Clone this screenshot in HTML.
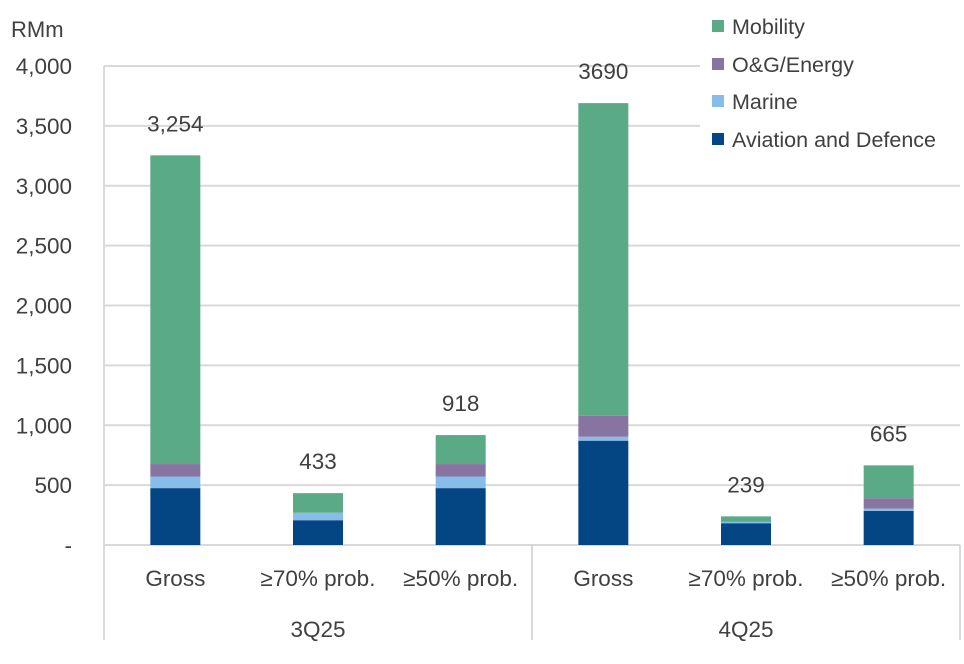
<!DOCTYPE html>
<html><head><meta charset="utf-8"><style>
html,body{margin:0;padding:0;background:#fff;}
svg text{font-family:"Liberation Sans",sans-serif;fill:#404040;}
</style></head><body>
<svg id="chart" width="964" height="659" viewBox="0 0 964 659" xmlns="http://www.w3.org/2000/svg">
<g id="grid"></g><g id="bars"></g><g id="labels"></g><g id="legend"></g>
</svg>
<script>
const categories = ["Gross","≥70% prob.","≥50% prob.","Gross","≥70% prob.","≥50% prob."];
const groups = ["3Q25","4Q25"];
const aviation = [475,207,475,871,182,285];
const marine = [97,63,97,33,11,19];
const energy = [104,0,104,176,0,87];
const mobility = [2578,163,242,2610,46,274];
const totals = ["3,254","433","918","3690","239","665"];
const yTicks = [0,500,1000,1500,2000,2500,3000,3500,4000];
const yTickLabels = ["-","500","1,000","1,500","2,000","2,500","3,000","3,500","4,000"];

const NS="http://www.w3.org/2000/svg";
const x0=104, x1=960, yBase=545, yTop=66, yMax=4000;
const y=v=>yBase-(v/yMax)*(yBase-yTop);
const step=(x1-x0)/categories.length;
const xc=i=>x0+step*(i+0.5);
function mk(parent,tag,attrs){const e=document.createElementNS(NS,tag);for(const k in attrs)e.setAttribute(k,attrs[k]);document.getElementById(parent).appendChild(e);return e;}

yTicks.forEach((t,i)=>{
  if(t>0){const g=mk('grid','line',{x1:x0,x2:x1,y1:y(t),y2:y(t),stroke:'#d9d9d9','stroke-width':2});
  
  }
  const tx=mk('labels','text',{x:72,y:y(t)+8,'text-anchor':'end','font-size':22.5});
  tx.textContent=yTickLabels[i];
  
  
});
const ax=mk('grid','line',{x1:x0,x2:x0,y1:yTop,y2:640,stroke:'#d9d9d9','stroke-width':2});


const bl=mk('grid','line',{x1:x0,x2:x1,y1:yBase,y2:yBase,stroke:'#d9d9d9','stroke-width':2});


[3,6].forEach(k=>{const xx=x0+step*k;const s=mk('grid','line',{x1:xx,x2:xx,y1:yBase,y2:640,stroke:'#d9d9d9','stroke-width':2});

});

const series=[{n:'aviation',d:aviation,c:'#044584'},{n:'marine',d:marine,c:'#86bde9'},{n:'energy',d:energy,c:'#8874a0'},{n:'mobility',d:mobility,c:'#5aaa85'}];
const bw=50;
categories.forEach((c,i)=>{
  let acc=0;
  series.forEach(s=>{
    const v=s.d[i];
    if(v>0){const r=mk('bars','rect',{x:xc(i)-bw/2,y:y(acc+v),width:bw,height:y(acc)-y(acc+v),fill:s.c});
    
    }
    acc+=v;
  });
  const t=mk('labels','text',{x:xc(i),y:y(acc)-24,'text-anchor':'middle','font-size':22.5});
  t.textContent=totals[i];
  
  
  const cl=mk('labels','text',{x:xc(i),y:586,'text-anchor':'middle','font-size':22.5});
  cl.textContent=c;
  
  
});
groups.forEach((g,k)=>{
  const t=mk('labels','text',{x:x0+step*(3*k+1.5),y:637,'text-anchor':'middle','font-size':22.5});
  t.textContent=g;
  
  
});
const u=mk('labels','text',{x:11,y:37,'font-size':22});
u.textContent='RMm';



const lb=mk('legend','rect',{x:700,y:5,width:262,height:155,fill:'#fff'});


const leg=[['Mobility','#5aaa85',26],['O&G/Energy','#8874a0',64],['Marine','#86bde9',101],['Aviation and Defence','#044584',139]];
leg.forEach(l=>{
  const r=mk('legend','rect',{x:712,y:l[2]-6,width:12,height:12,fill:l[1]});
  
  
  const t=mk('legend','text',{x:732,y:l[2]+8,'font-size':21.5});
  t.textContent=l[0];
  
  
});
</script>
</body></html>
